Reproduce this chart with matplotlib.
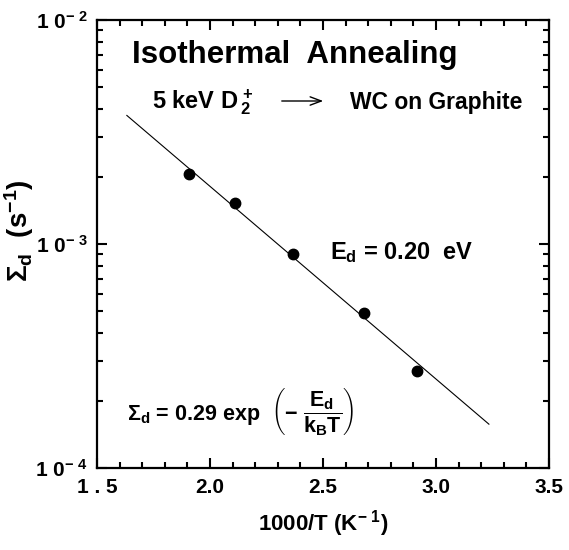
import numpy as np
import matplotlib
matplotlib.use("Agg")
import matplotlib.pyplot as plt
from matplotlib.ticker import MultipleLocator, LogLocator, NullFormatter, FixedLocator

plt.rcParams["font.family"] = ["Liberation Sans", "DejaVu Sans"]
plt.rcParams["font.weight"] = "bold"
plt.rcParams["mathtext.fontset"] = "custom"
plt.rcParams["mathtext.rm"] = "Liberation Sans:bold"
plt.rcParams["mathtext.it"] = "Liberation Sans:bold"
plt.rcParams["mathtext.bf"] = "Liberation Sans:bold"

# measured annealing rates
inv_T = [1.909, 2.111, 2.365, 2.683, 2.916]
sigma_d = [2.06e-3, 1.52e-3, 9.0e-4, 4.91e-4, 2.72e-4]

# fitted Arrhenius line (end points)
fit_x = [1.632, 3.234]
fit_y = [3.75e-3, 1.57e-4]

x_ticks = [1.5, 2.0, 2.5, 3.0, 3.5]
x_tick_labels = ["1 . 5", "2.0", "2.5", "3.0", "3.5"]
y_ticks = [1e-4, 1e-3, 1e-2]
y_tick_labels = [r"1 0$^{-\ 4}$", r"1 0$^{-\ 3}$", r"1 0$^{-\ 2}$"]

W, H = 569, 550
fig = plt.figure(figsize=(W / 100, H / 100), dpi=100)
ax = fig.add_axes([0.1705, 0.149, 0.7944, 0.8146])


def px(x, y):
    # pixel position from the top-left corner -> figure fraction
    return x / W, 1 - y / H


ax.plot(fit_x, fit_y, color="black", lw=0.8)
ax.plot(inv_T, sigma_d, "o", color="black", ms=7.5)

ax.set_yscale("log")
ax.set_xlim(1.5, 3.5)
ax.set_ylim(1e-4, 1e-2)

ax.xaxis.set_major_locator(FixedLocator(x_ticks))
ax.set_xticklabels(x_tick_labels)
ax.xaxis.set_minor_locator(MultipleLocator(0.1))
ax.yaxis.set_major_locator(FixedLocator(y_ticks))
ax.set_yticklabels(y_tick_labels)
ax.yaxis.set_minor_locator(LogLocator(base=10, subs=np.arange(2, 10)))
ax.yaxis.set_minor_formatter(NullFormatter())

ax.tick_params(which="both", direction="in", top=True, right=True, width=1.5, labelsize=15)
ax.tick_params(which="major", length=7, pad=7)
ax.tick_params(which="minor", length=4)
for s in ax.spines.values():
    s.set_linewidth(1.6)

ax.set_xlabel(r"1000/T (K$^{-\ 1}$)", fontsize=16, fontweight="bold", labelpad=8)
ax.set_ylabel(r"$\Sigma_\mathrm{d}$  (s$^{-1}$)", fontsize=20, fontweight="bold")
ax.yaxis.set_label_coords(-0.135, 0.53)

fig.text(*px(132, 55), "Isothermal  Annealing", fontsize=22.5, fontweight="bold",
         va="center", ha="left")
fig.text(*px(152, 102), r"5 keV D$_{\,2}^{\,+}$", fontsize=17, fontweight="bold",
         va="center", ha="left")
fig.add_artist(matplotlib.patches.FancyArrowPatch(px(279, 101), px(326, 101),
               transform=fig.transFigure, arrowstyle="->,head_length=8,head_width=3",
               lw=1.0, color="black", mutation_scale=1))
fig.text(*px(350, 102), "WC on Graphite", fontsize=16.5, fontweight="bold",
         va="center", ha="left")
fig.text(*px(330, 253), r"E$_\mathrm{d}$ = 0.20  eV", fontsize=17,
         fontweight="bold", va="center", ha="left")
fig.text(*px(127, 413), r"$\Sigma_\mathrm{d}$ = 0.29 exp  $\left(-\ \dfrac{E_d}{k_BT}\right)$",
         fontsize=15.5, fontweight="bold", va="center", ha="left")

fig.savefig("out.png", dpi=100)
